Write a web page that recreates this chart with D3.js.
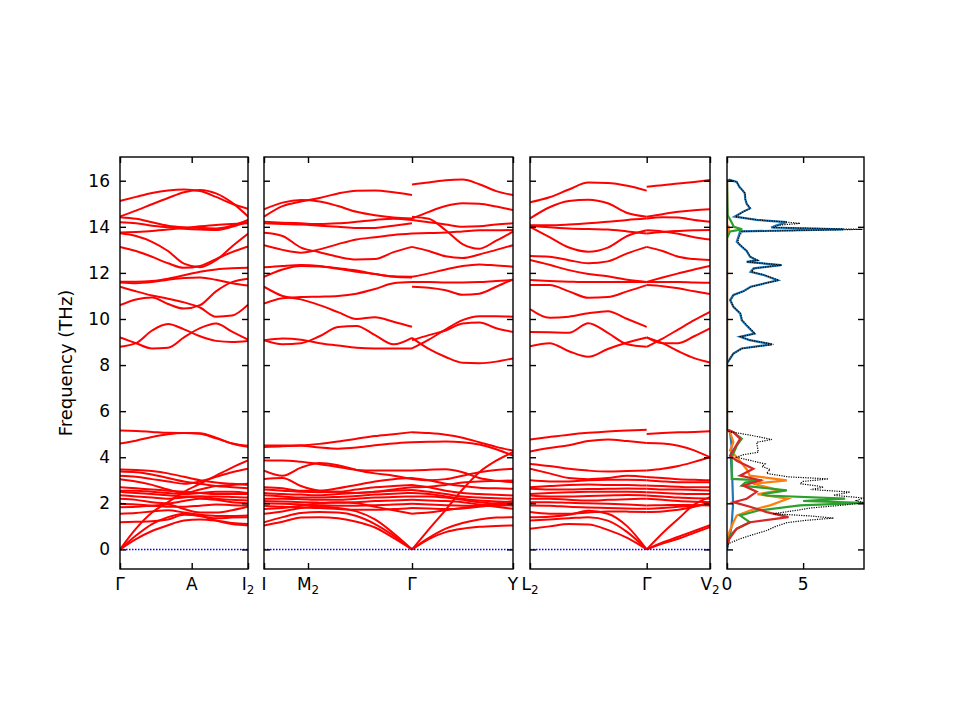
<!DOCTYPE html>
<html>
<head>
<meta charset="utf-8">
<script src="https://cdn.jsdelivr.net/npm/d3@7"></script>
<style>
  body { margin: 0; background: #fff; }
  svg text { font-family: "DejaVu Sans", sans-serif; fill: #000; }
</style>
</head>
<body>
<div id="chart"></div>
<script>
// ---- data ----------------------------------------------------------------
const yTicks = [0, 2, 4, 6, 8, 10, 12, 14, 16];

// k-path distances of the high symmetry points, one list per panel
const pathLength = [1.28, 2.49, 1.80];
const kTicks1 = [0, 0.717, 1.28];
const kTicks2 = [0, 0.44, 1.48, 2.49];
const kTicks3 = [0, 1.167, 1.80];
const kLabels1 = ["Γ", "A", "I_2"];
const kLabels2 = ["I", "M_2", "Γ", "Y"];
const kLabels3 = ["L_2", "Γ", "V_2"];

// sample positions along each segment
const seg1K = [0, 0.16, 0.32, 0.48, 0.64, 0.80, 0.96, 1.12, 1.28];
const seg2aK = [0, 0.185, 0.37, 0.555, 0.74, 0.925, 1.11, 1.295, 1.48];
const seg2bK = [1.48, 1.648, 1.817, 1.985, 2.153, 2.322, 2.49];
const seg3aK = [0, 0.195, 0.389, 0.584, 0.778, 0.973, 1.167];
const seg3bK = [1.167, 1.325, 1.484, 1.642, 1.80];

// band frequencies (THz) read at those samples
const seg1Bands = [
  [15.12, 15.3, 15.47, 15.58, 15.62, 15.55, 15.3, 15.0, 14.78],
  [14.45, 14.7, 14.98, 15.25, 15.5, 15.6, 15.45, 15.05, 14.45],
  [14.42, 14.35, 14.2, 14.05, 13.98, 13.95, 13.93, 14.05, 14.3],
  [14.2, 14.15, 14.05, 13.98, 13.92, 13.88, 13.86, 14.0, 14.22],
  [13.75, 13.78, 13.82, 13.88, 13.95, 14.02, 14.08, 14.12, 14.15],
  [13.72, 13.6, 13.35, 12.95, 12.4, 12.25, 12.55, 13.15, 13.7],
  [13.13, 12.95, 12.7, 12.42, 12.22, 12.3, 12.6, 12.9, 13.15],
  [11.62, 11.62, 11.65, 11.75, 11.9, 12.05, 12.15, 12.2, 12.22],
  [11.58, 11.55, 11.6, 11.7, 11.78, 11.8, 11.7, 11.55, 11.45],
  [11.4, 11.2, 11.02, 10.88, 10.72, 10.5, 10.1, 10.15, 10.62],
  [10.6, 10.85, 10.93, 10.65, 10.45, 10.6, 11.2, 11.6, 11.75],
  [9.2, 8.95, 8.72, 8.75, 9.2, 9.6, 9.8, 9.45, 9.1],
  [8.8, 8.95, 9.5, 9.78, 9.55, 9.25, 9.05, 9.0, 9.05],
  [5.16, 5.14, 5.1, 5.06, 5.05, 5.04, 4.85, 4.6, 4.45],
  [4.6, 4.72, 4.88, 5.0, 5.05, 5.02, 4.82, 4.6, 4.5],
  [3.47, 3.45, 3.4, 3.3, 3.15, 3.0, 2.9, 2.85, 2.8],
  [3.38, 3.35, 3.25, 3.1, 2.95, 2.85, 2.75, 2.7, 2.65],
  [3.2, 3.15, 3.05, 2.95, 2.85, 2.95, 3.15, 3.35, 3.5],
  [3.05, 2.95, 2.8, 2.6, 2.45, 2.6, 2.75, 2.8, 2.85],
  [2.7, 2.65, 2.6, 2.55, 2.5, 2.45, 2.4, 2.4, 2.41],
  [2.55, 2.55, 2.5, 2.45, 2.4, 2.45, 2.5, 2.5, 2.45],
  [2.5, 2.45, 2.4, 2.35, 2.3, 2.3, 2.3, 2.28, 2.25],
  [2.35, 2.3, 2.25, 2.2, 2.25, 2.3, 2.2, 2.15, 2.12],
  [2.2, 2.15, 2.05, 2.0, 2.1, 2.2, 2.15, 2.05, 2.0],
  [1.98, 1.95, 1.9, 1.85, 1.85, 1.9, 1.95, 1.92, 1.9],
  [1.83, 1.85, 1.9, 1.95, 1.75, 1.6, 1.6, 1.7, 1.85],
  [1.55, 1.58, 1.65, 1.7, 1.6, 1.5, 1.45, 1.45, 1.47],
  [1.18, 1.2, 1.22, 1.3, 1.5, 1.45, 1.25, 1.1, 1.04],
  [0, 0.45, 0.8, 1.05, 1.25, 1.3, 1.25, 1.15, 1.1],
  [0, 0.6, 1.1, 1.4, 1.55, 1.45, 1.35, 1.38, 1.4],
  [0, 0.9, 1.6, 2.05, 2.5, 2.85, 3.2, 3.55, 3.86]
];

const seg2aBands = [
  [14.44, 14.9, 15.1, 15.25, 15.45, 15.57, 15.58, 15.5, 15.38],
  [14.76, 15.05, 15.16, 15.1, 14.9, 14.65, 14.5, 14.4, 14.36],
  [14.22, 14.18, 14.15, 14.12, 14.15, 14.22, 14.3, 14.35, 14.3],
  [14.15, 14.12, 14.1, 14.05, 14.0, 13.95, 13.95, 14.05, 14.15],
  [13.74, 13.6, 13.1, 12.9, 12.7, 12.58, 12.6, 12.9, 13.13],
  [13.2, 13.0, 12.88, 13.02, 13.25, 13.45, 13.55, 13.65, 13.71],
  [12.24, 12.3, 12.34, 12.3, 12.18, 12.05, 11.95, 11.85, 11.83],
  [11.83, 12.15, 12.3, 12.28, 12.2, 12.1, 11.95, 11.83, 11.8],
  [11.4, 11.0, 10.85, 10.6, 10.3, 10.0, 10.08, 9.88, 9.66],
  [10.67, 10.9, 10.95, 10.97, 11.0, 11.1, 11.3, 11.55, 11.6],
  [9.08, 9.15, 9.1, 8.95, 8.85, 8.75, 8.72, 8.72, 8.72],
  [9.08, 8.9, 8.95, 9.25, 9.65, 9.7, 9.3, 8.9, 9.18],
  [4.51, 4.51, 4.52, 4.58, 4.68, 4.8, 4.92, 5.0, 5.09],
  [4.44, 4.48, 4.5, 4.42, 4.37, 4.42, 4.52, 4.6, 4.65],
  [3.86, 3.86, 3.8, 3.7, 3.58, 3.45, 3.42, 3.42, 3.42],
  [3.42, 3.2, 3.55, 3.75, 3.65, 3.45, 3.3, 3.2, 3.06],
  [3.06, 3.1, 2.75, 2.55, 2.5, 2.45, 2.5, 2.6, 2.7],
  [2.7, 2.65, 2.55, 2.55, 2.65, 2.8, 2.95, 3.05, 3.1],
  [2.6, 2.55, 2.5, 2.48, 2.5, 2.6, 2.7, 2.75, 2.8],
  [2.45, 2.4, 2.38, 2.35, 2.4, 2.45, 2.5, 2.55, 2.58],
  [2.35, 2.3, 2.25, 2.25, 2.28, 2.32, 2.38, 2.42, 2.45],
  [2.2, 2.2, 2.18, 2.15, 2.15, 2.2, 2.25, 2.28, 2.3],
  [2.1, 2.08, 2.05, 2.03, 2.02, 2.05, 2.1, 2.12, 2.15],
  [2.0, 1.98, 1.95, 1.92, 1.9, 1.9, 1.92, 1.95, 1.98],
  [1.9, 1.85, 1.82, 1.8, 1.75, 1.72, 1.72, 1.75, 1.8],
  [1.75, 1.8, 1.9, 2.0, 2.05, 2.0, 1.85, 1.7, 1.55],
  [1.55, 1.65, 1.8, 1.85, 1.8, 1.65, 1.3, 0.7, 0],
  [1.18, 1.4, 1.58, 1.62, 1.6, 1.45, 1.1, 0.6, 0],
  [1.04, 1.2, 1.38, 1.4, 1.35, 1.2, 0.95, 0.5, 0]
];

const seg2bBands = [
  [15.84, 15.92, 16.02, 16.05, 15.85, 15.55, 15.38],
  [14.36, 14.65, 14.9, 15.02, 15.0, 14.88, 14.73],
  [14.44, 14.35, 13.85, 13.25, 13.05, 13.4, 13.79],
  [14.3, 14.2, 14.1, 14.0, 14.02, 14.1, 14.15],
  [13.71, 13.73, 13.75, 13.8, 13.85, 13.85, 13.86],
  [13.13, 12.95, 12.72, 12.65, 12.8, 13.0, 13.2],
  [11.83, 11.98, 12.15, 12.3, 12.37, 12.32, 12.27],
  [11.6, 11.6, 11.58, 11.58, 11.6, 11.65, 11.69],
  [11.4, 11.36, 11.25, 11.05, 11.1, 11.4, 11.72],
  [8.72, 9.1, 9.55, 9.95, 10.12, 10.12, 10.1],
  [9.18, 8.7, 8.35, 8.1, 8.08, 8.15, 8.29],
  [9.08, 9.3, 9.5, 9.8, 9.85, 9.6, 9.44],
  [5.09, 5.05, 4.98, 4.85, 4.65, 4.45, 4.29],
  [4.65, 4.67, 4.68, 4.65, 4.55, 4.35, 4.07],
  [3.42, 3.46, 3.48, 3.35, 3.1, 2.98, 2.92],
  [3.06, 3.0, 3.05, 3.2, 3.35, 3.45, 3.5],
  [2.7, 2.72, 2.8, 2.9, 2.95, 2.97, 2.99],
  [3.1, 3.0, 2.85, 2.75, 2.68, 2.65, 2.63],
  [2.8, 2.7, 2.55, 2.45, 2.4, 2.37, 2.34],
  [2.58, 2.5, 2.4, 2.3, 2.25, 2.22, 2.2],
  [2.45, 2.4, 2.3, 2.2, 2.12, 2.08, 2.05],
  [2.3, 2.3, 2.25, 2.15, 2.05, 1.98, 1.91],
  [2.15, 2.12, 2.1, 2.05, 1.95, 1.85, 1.76],
  [1.98, 1.95, 1.92, 1.9, 1.88, 1.9, 1.92],
  [1.8, 1.78, 1.75, 1.78, 1.85, 1.95, 2.05],
  [1.55, 1.6, 1.7, 1.8, 1.9, 2.0, 2.1],
  [0, 0.87, 1.72, 2.6, 3.35, 3.85, 4.22],
  [0, 0.5, 0.9, 1.15, 1.3, 1.38, 1.4],
  [0, 0.45, 0.75, 0.9, 0.98, 1.02, 1.04]
];

const seg3aBands = [
  [15.06, 15.28, 15.62, 15.92, 15.9, 15.78, 15.57],
  [14.36, 14.85, 15.12, 15.18, 15.02, 14.6, 14.44],
  [14.07, 14.07, 14.1, 14.15, 14.22, 14.3, 14.36],
  [14.05, 13.98, 13.93, 13.9, 13.88, 13.8, 13.71],
  [14.0, 13.55, 13.1, 12.92, 13.1, 13.6, 13.85],
  [12.73, 12.7, 12.55, 12.42, 12.5, 12.85, 13.13],
  [12.56, 12.35, 12.12, 11.95, 11.85, 11.7, 11.61],
  [11.69, 11.65, 11.62, 11.6, 11.6, 11.6, 11.61],
  [11.47, 11.47, 11.2, 10.92, 10.95, 11.2, 11.47],
  [10.43, 10.05, 10.1, 10.25, 10.34, 10.0, 9.66],
  [9.44, 9.42, 9.4, 9.82, 9.4, 8.9, 8.79],
  [8.82, 8.95, 8.6, 8.36, 8.7, 8.98, 9.2],
  [4.77, 4.88, 4.98, 5.06, 5.12, 5.16, 5.19],
  [4.25, 4.4, 4.52, 4.7, 4.77, 4.7, 4.62],
  [3.71, 3.62, 3.5, 3.42, 3.38, 3.4, 3.42],
  [3.5, 3.3, 3.1, 3.05, 3.1, 3.2, 3.14],
  [3.0, 2.95, 2.95, 3.0, 3.02, 3.02, 3.0],
  [2.7, 2.75, 2.8, 2.82, 2.8, 2.8, 2.77],
  [2.63, 2.6, 2.6, 2.62, 2.63, 2.64, 2.63],
  [2.41, 2.45, 2.48, 2.5, 2.5, 2.5, 2.48],
  [2.34, 2.3, 2.3, 2.32, 2.34, 2.36, 2.34],
  [2.2, 2.2, 2.15, 2.12, 2.15, 2.18, 2.2],
  [2.05, 2.05, 2.02, 2.0, 1.98, 1.95, 1.91],
  [1.91, 1.9, 1.85, 1.82, 1.8, 1.78, 1.76],
  [1.62, 1.55, 1.55, 1.6, 1.65, 1.64, 1.62],
  [1.4, 1.42, 1.5, 1.68, 1.55, 1.0, 0],
  [1.26, 1.3, 1.35, 1.4, 1.25, 0.75, 0],
  [0.9, 1.0, 1.1, 1.08, 0.85, 0.5, 0]
];

const seg3bBands = [
  [15.74, 15.8, 15.88, 15.95, 16.03],
  [14.44, 14.55, 14.65, 14.72, 14.76],
  [14.36, 14.42, 14.4, 14.3, 14.22],
  [13.71, 13.78, 13.82, 13.85, 13.86],
  [13.85, 13.8, 13.7, 13.55, 13.45],
  [13.13, 12.95, 12.7, 12.6, 12.56],
  [11.61, 11.8, 11.98, 12.15, 12.3],
  [11.61, 11.6, 11.6, 11.58, 11.57],
  [11.47, 11.42, 11.33, 11.2, 11.08],
  [8.79, 9.15, 9.55, 9.95, 10.31],
  [9.2, 8.95, 8.95, 9.25, 9.59],
  [9.2, 8.95, 8.6, 8.3, 8.11],
  [5.01, 5.05, 5.08, 5.1, 5.13],
  [4.62, 4.6, 4.5, 4.3, 4.0],
  [3.42, 3.5, 3.62, 3.8, 4.0],
  [3.14, 3.1, 3.05, 3.02, 3.0],
  [3.0, 2.95, 2.92, 2.92, 2.92],
  [2.77, 2.75, 2.72, 2.7, 2.7],
  [2.63, 2.6, 2.6, 2.58, 2.56],
  [2.48, 2.45, 2.42, 2.4, 2.41],
  [2.34, 2.3, 2.25, 2.22, 2.2],
  [2.2, 2.15, 2.1, 2.07, 2.05],
  [1.91, 1.92, 1.93, 1.92, 1.91],
  [1.76, 1.8, 1.85, 1.9, 1.95],
  [1.62, 1.65, 1.72, 1.85, 2.05],
  [0, 0.7, 1.33, 1.95, 2.27],
  [0, 0.3, 0.55, 0.8, 1.05],
  [0, 0.25, 0.46, 0.72, 0.97]
];

// phonon DOS: [frequency, states]
const dosTicks = [0, 5];
const dosBlue = [
  [0, 0], [0.5, 0.15], [1.0, 0.3], [1.5, 0.35], [2.0, 0.4], [3.0, 0.35], [4.0, 0.25],
  [4.5, 0.3], [5.1, 0.2], [5.2, 0], [8.07, 0], [8.28, 0.2], [8.5, 0.42], [8.72, 0.95],
  [8.9, 2.94], [9.08, 1.5], [9.23, 0.86], [9.37, 1.8], [9.73, 1.27], [9.95, 0.97],
  [10.24, 0.86], [10.53, 0.42], [10.82, 0.2], [11.04, 0.42], [11.2, 1.06], [11.4, 1.55],
  [11.55, 2.5], [11.68, 3.33], [11.9, 2.45], [12.05, 1.55], [12.2, 1.75], [12.34, 3.55],
  [12.48, 1.29], [12.55, 1.95], [12.7, 1.51], [12.95, 1.29], [13.2, 0.86], [13.35, 0.64],
  [13.57, 0.75], [13.8, 0.86], [13.89, 7.65], [13.97, 2.9], [14.07, 3.27], [14.2, 3.93],
  [14.3, 1.95], [14.44, 0.5], [14.66, 1.06], [14.8, 1.51], [15.0, 1.29], [15.2, 1.2],
  [15.45, 1.17], [15.6, 1.0], [15.74, 0.8], [15.95, 0.64], [16.05, 0.1]
];
const dosOrange = [
  [0.4, 0], [0.75, 0.15], [1.18, 0.42], [1.47, 0.64], [1.69, 1.51], [1.91, 2.83], [2.2, 4.0],
  [2.4, 2.0], [2.56, 3.48], [2.85, 1.7], [3.0, 3.93], [3.2, 1.5], [3.47, 1.3], [4.0, 0.64],
  [4.3, 0.2], [4.65, 0.42], [5.09, 0.2], [5.2, 0], [13.7, 0], [13.95, 0.15], [14.1, 0], [16.05, 0]
];
const dosGreen = [
  [0.32, 0], [0.6, 0.2], [0.9, 0.64], [1.18, 1.51], [1.47, 0.86], [1.69, 2.06], [1.91, 4.8],
  [2.02, 8.97], [2.1, 5.0], [2.2, 7.76], [2.34, 2.61], [2.4, 2.3], [2.56, 3.93], [2.77, 0.97],
  [2.9, 1.2], [3.0, 2.3], [3.06, 0.31], [3.64, 0.31], [4.0, 0.31], [4.5, 0.64], [4.8, 0.97],
  [5.09, 0.42], [5.2, 0], [13.5, 0], [13.8, 0.2], [13.89, 1.0], [14.0, 0.45], [14.2, 0.3],
  [14.5, 0.05], [16.05, 0]
];
const dosRed = [
  [0.2, 0], [0.46, 0.15], [0.9, 0.64], [1.18, 1.51], [1.4, 4.04], [1.62, 2.61], [1.85, 1.51],
  [2.05, 0.42], [2.2, 1.29], [2.5, 1.95], [2.77, 1.07], [3.0, 2.2], [3.2, 0.86], [3.5, 1.73],
  [3.85, 0.64], [4.07, 0.2], [4.8, 0.86], [5.09, 0.42], [5.2, 0], [16.05, 0]
];
const dosTotal = [
  [0, 0], [0.25, 0.09], [0.46, 0.86], [0.6, 1.5], [0.82, 2.61], [1.0, 3.2], [1.16, 3.93],
  [1.25, 5.0], [1.36, 7.0], [1.45, 5.5], [1.55, 3.05], [1.7, 4.6], [1.8, 5.5], [1.91, 7.43],
  [2.02, 8.97], [2.12, 8.5], [2.23, 8.97], [2.35, 7.0], [2.49, 8.09], [2.6, 5.5], [2.7, 6.34],
  [2.75, 6.0], [2.85, 4.8], [2.95, 5.0], [3.06, 6.67], [3.15, 4.0], [3.3, 2.6], [3.47, 2.83],
  [3.6, 2.3], [3.71, 2.5], [3.85, 1.6], [4.0, 0.64], [4.1, 1.0], [4.22, 2.06], [4.45, 2.0],
  [4.65, 1.95], [4.77, 2.94], [4.95, 1.6], [5.12, 0.1], [5.2, 0], [8.0, 0], [8.07, 0],
  [8.28, 0.2], [8.5, 0.42], [8.72, 1.0], [8.9, 3.05], [9.08, 1.5], [9.23, 0.9], [9.37, 1.85],
  [9.73, 1.3], [9.95, 1.0], [10.24, 0.9], [10.53, 0.42], [10.82, 0.25], [11.04, 0.42],
  [11.2, 1.1], [11.4, 1.6], [11.55, 2.5], [11.68, 3.4], [11.9, 2.5], [12.05, 1.6], [12.2, 1.8],
  [12.34, 3.6], [12.48, 1.3], [12.55, 2.0], [12.7, 1.55], [12.95, 1.3], [13.2, 0.9],
  [13.35, 0.7], [13.57, 0.8], [13.8, 1.0], [13.89, 8.9], [13.97, 3.0], [14.07, 3.4],
  [14.15, 4.8], [14.2, 4.0], [14.3, 2.0], [14.44, 0.55], [14.66, 1.1], [14.8, 1.55],
  [15.0, 1.3], [15.2, 1.2], [15.45, 1.2], [15.6, 1.0], [15.74, 0.82], [15.95, 0.64], [16.05, 0.1]
];

// ---- layout --------------------------------------------------------------
const plotTop = 157, plotBottom = 569;
const panelBox = [[120, 248], [264, 513], [530, 710], [727, 864]];
const fontSize = 17;

const svg = d3.select("#chart").append("svg")
    .attr("width", 960)
    .attr("height", 720);

const y = d3.scaleLinear().domain([-0.85, 17.03]).range([plotBottom, plotTop]);
const bandX = pathLength.map((len, i) => d3.scaleLinear().domain([0, len]).range(panelBox[i]));
const dosX = d3.scaleLinear().domain([0, 9]).range(panelBox[3]);

// clip each panel to its frame
const defs = svg.append("defs");
panelBox.forEach((b, i) => {
    defs.append("clipPath").attr("id", "clip" + i)
        .append("rect")
        .attr("x", b[0]).attr("y", plotTop)
        .attr("width", b[1] - b[0]).attr("height", plotBottom - plotTop);
});

// bands
const segments = [
    { panel: 0, k: seg1K, bands: seg1Bands },
    { panel: 1, k: seg2aK, bands: seg2aBands },
    { panel: 1, k: seg2bK, bands: seg2bBands },
    { panel: 2, k: seg3aK, bands: seg3aBands },
    { panel: 2, k: seg3bK, bands: seg3bBands }
];

segments.forEach(s => {
    const line = d3.line()
        .x((f, i) => bandX[s.panel](s.k[i]))
        .y(f => y(f))
        .curve(d3.curveMonotoneX);

    svg.append("g")
        .attr("clip-path", `url(#clip${s.panel})`)
        .selectAll("path")
        .data(s.bands)
        .enter()
        .append("path")
        .attr("d", line)
        .attr("fill", "none")
        .attr("stroke", "#ff0000")
        .attr("stroke-width", 2);
});

// zero line (blue dotted, on top of the bands)
[0, 1, 2].forEach(i => {
    svg.append("line")
        .attr("x1", panelBox[i][0]).attr("x2", panelBox[i][1])
        .attr("y1", y(0)).attr("y2", y(0))
        .style("stroke", "rgb(0,0,255)")
        .style("stroke-width", "1.5px")
        .style("stroke-dasharray", "1.5,1.5");
});

// DOS curves
const dosLine = d3.line()
    .x(d => dosX(d[1]))
    .y(d => y(d[0]));

const dosG = svg.append("g").attr("clip-path", "url(#clip3)");
[[dosBlue, "#1f77b4"], [dosOrange, "#ff7f0e"], [dosGreen, "#2ca02c"], [dosRed, "#d62728"]]
    .forEach(([data, color]) => {
        dosG.append("path")
            .attr("d", dosLine(data))
            .attr("fill", "none")
            .attr("stroke", color)
            .attr("stroke-width", 2.2);
    });
dosG.append("path")
    .attr("d", dosLine(dosTotal))
    .attr("fill", "none")
    .attr("stroke", "#000")
    .attr("stroke-width", 1.2)
    .attr("stroke-dasharray", "1.2,1.2");

// axes: inward ticks on all four sides
function styleAxis(g) {
    g.select(".domain").remove();
    g.selectAll(".tick line").attr("stroke", "#000").attr("stroke-width", 1.4);
    g.selectAll("text")
        .attr("font-family", "DejaVu Sans, sans-serif")
        .style("font-size", fontSize + "px")
        .attr("fill", "#000");
}

const kTicks = [kTicks1, kTicks2, kTicks3];
const kLabels = [kLabels1, kLabels2, kLabels3];

panelBox.forEach((b, i) => {
    const xs = i < 3 ? bandX[i] : dosX;
    const xt = i < 3 ? kTicks[i] : dosTicks;

    svg.append("g")
        .attr("transform", `translate(${b[0]},0)`)
        .call(d3.axisLeft(y).tickValues(yTicks).tickSize(-6).tickPadding(10)
            .tickFormat(i === 0 ? d3.format("d") : ""))
        .call(styleAxis);

    svg.append("g")
        .attr("transform", `translate(${b[1]},0)`)
        .call(d3.axisRight(y).tickValues(yTicks).tickSize(-6).tickFormat(""))
        .call(styleAxis);

    svg.append("g")
        .attr("transform", `translate(0,${plotTop})`)
        .call(d3.axisTop(xs).tickValues(xt).tickSize(-6).tickFormat(""))
        .call(styleAxis);

    svg.append("g")
        .attr("transform", `translate(0,${plotBottom})`)
        .call(d3.axisBottom(xs).tickValues(xt).tickSize(-6).tickFormat(""))
        .call(styleAxis);

    svg.append("rect")
        .attr("x", b[0]).attr("y", plotTop)
        .attr("width", b[1] - b[0]).attr("height", plotBottom - plotTop)
        .attr("fill", "none")
        .attr("stroke", "#000")
        .attr("stroke-width", 1.4);
});

// high symmetry point labels, with subscripts
kLabels.forEach((labels, i) => {
    labels.forEach((lab, j) => {
        const parts = lab.split("_");
        const t = svg.append("text")
            .attr("x", bandX[i](kTicks[i][j]))
            .attr("y", 590)
            .attr("text-anchor", "middle")
            .style("font-size", fontSize + "px");
        t.append("tspan").text(parts[0]);
        if (parts[1]) {
            t.append("tspan")
                .attr("dy", 4)
                .style("font-size", (fontSize * 0.7) + "px")
                .text(parts[1]);
        }
    });
});

// DOS tick labels
svg.selectAll(".dosLabel")
    .data(dosTicks)
    .enter()
    .append("text")
    .attr("class", "dosLabel")
    .attr("x", d => dosX(d))
    .attr("y", 590)
    .attr("text-anchor", "middle")
    .style("font-size", fontSize + "px")
    .text(d => d);

// y label
svg.append("text")
    .attr("transform", `translate(72,${(plotTop + plotBottom) / 2}) rotate(-90)`)
    .attr("text-anchor", "middle")
    .style("font-size", "18px")
    .text("Frequency (THz)");
</script>
</body>
</html>
